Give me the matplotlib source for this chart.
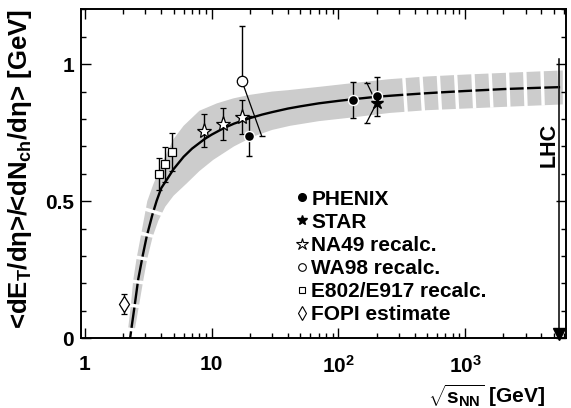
import matplotlib
matplotlib.use('Agg')
import matplotlib.pyplot as plt
from matplotlib.lines import Line2D
from matplotlib.ticker import LogLocator, NullFormatter, MultipleLocator

plt.rcParams['font.family'] = 'Liberation Sans'
plt.rcParams['font.weight'] = 'bold'
plt.rcParams['mathtext.fontset'] = 'custom'
plt.rcParams['mathtext.rm'] = 'Liberation Sans:bold'
plt.rcParams['mathtext.it'] = 'Liberation Sans:bold'
plt.rcParams['mathtext.bf'] = 'Liberation Sans:bold'
plt.rcParams['lines.scale_dashes'] = False

# === fit curve ===
fit_x = [2.27, 2.34, 2.45, 2.63, 2.85, 3.07, 3.4, 3.68, 4.0, 4.5, 5.0, 6.0, 7.0, 8.8,
         10, 12.5, 15, 17.3, 20, 25, 30, 40, 50, 70, 100, 130, 200, 300, 500, 700,
         1000, 1500, 2000, 3000, 4000, 5500]
fit_y = [0.0, 0.045, 0.11, 0.215, 0.30, 0.372, 0.45, 0.502, 0.548, 0.584, 0.617, 0.662,
         0.692, 0.727, 0.743, 0.767, 0.783, 0.793, 0.803, 0.816, 0.825, 0.838, 0.846,
         0.857, 0.866, 0.872, 0.881, 0.887, 0.894, 0.898, 0.902, 0.906, 0.909, 0.912,
         0.914, 0.916]

# bande grise : bord haut/gauche et bord bas/droit
band_up_x = [2.19, 2.30, 2.40, 2.55, 2.75, 3.1, 3.45, 3.82, 4.26, 4.97, 6.0, 8.0, 11, 14.8,
             20, 30, 40, 70, 131, 250, 500, 1000, 2000, 5900]
band_up_y = [0.035, 0.12, 0.21, 0.29, 0.37, 0.50, 0.56, 0.61, 0.66, 0.725, 0.775, 0.83,
             0.857, 0.875, 0.888, 0.90, 0.905, 0.917, 0.931, 0.945, 0.955, 0.962, 0.968,
             0.977]
band_lo_x = [2.48, 2.67, 2.88, 3.1, 3.42, 3.8, 4.3, 5.0, 6.35, 8.0, 10.3, 15, 21.3, 30,
             41.5, 70, 131, 255, 500, 1000, 2000, 5900]
band_lo_y = [0.035, 0.12, 0.21, 0.29, 0.37, 0.43, 0.48, 0.52, 0.565, 0.61, 0.651, 0.70,
             0.736, 0.76, 0.775, 0.792, 0.806, 0.822, 0.832, 0.838, 0.844, 0.853]

# === data points ===
phenix_x = [19.6, 130, 200]
phenix_y = [0.738, 0.870, 0.882]
phenix_err = [0.072, 0.066, 0.072]

star_x = [200]
star_y = [0.858]
star_hi = [0.933]
star_lo = [0.787]
star_cap_x = [167]

na49_x = [8.77, 12.3, 17.3]
na49_y = [0.757, 0.782, 0.807]
na49_err = [0.06, 0.058, 0.062]

wa98_x = [17.3]
wa98_y = [0.939]
wa98_hi = [1.14]
wa98_lo = [0.738]
wa98_cap_x = [24.8]

e802_x = [3.82, 4.26, 4.83]
e802_y = [0.598, 0.634, 0.680]
e802_err = [0.058, 0.063, 0.068]

fopi_x = [2.03]
fopi_y = [0.125]
fopi_err = [0.038]

lhc_x = 5500
lhc_top = 1.02

labels = ['PHENIX', 'STAR', 'NA49 recalc.', 'WA98 recalc.', 'E802/E917 recalc.', 'FOPI estimate']

fig = plt.figure(figsize=(5.71, 4.08), dpi=100)
ax = fig.add_axes([81/571, 1-338.3/408, 485/571, 329/408])
ax.set_xscale('log')
ax.set_xlim(0.93, 6255)
ax.set_ylim(0, 1.2)

# bande + courbe
poly_x = band_up_x + band_lo_x[::-1]
poly_y = band_up_y + band_lo_y[::-1]
ax.fill(poly_x, poly_y, color='#cccccc', lw=0, zorder=1)
ax.plot(fit_x, fit_y, color='black', lw=1.7, zorder=2)

# coupures blanches (zones extrapolees)
low = [(x, y) for x, y in zip(fit_x, fit_y) if x <= 3.68][::-1]
ax.plot([p[0] for p in low], [p[1] for p in low], color='white', lw=16,
        linestyle=(10.3, (2.5, 14.8)), dash_capstyle='butt', zorder=3)
high = [(x, y) for x, y in zip(fit_x, fit_y) if x >= 300]
ax.plot([p[0] for p in high], [p[1] for p in high], color='white', lw=26,
        linestyle=(9.2, (2.45, 9.95)), dash_capstyle='butt', zorder=3)

# LHC
ax.plot([lhc_x, lhc_x], [lhc_top, 0.03], color='black', lw=1.1, zorder=4)
ax.plot([lhc_x], [0.016], marker='v', ms=9, color='black', clip_on=False, zorder=4)
ax.annotate('LHC', xy=(lhc_x, 0.705), xytext=(-6.7, 0), textcoords='offset points',
            rotation=90, ha='center', va='center', fontsize=15.5, zorder=4)

eb = dict(color='black', lw=1, capsize=2.2, capthick=1, linestyle='none', zorder=5)

# E802 / FOPI / NA49 / PHENIX
ax.errorbar(e802_x, e802_y, yerr=e802_err, marker='s', ms=5.5, mfc='white', mec='black',
            mew=0.9, **eb)
ax.errorbar(fopi_x, fopi_y, yerr=fopi_err, marker='d', ms=8, mfc='white', mec='black',
            mew=0.9, **eb)
ax.errorbar(na49_x, na49_y, yerr=na49_err, marker='*', ms=11, mfc='white', mec='black',
            mew=0.9, **eb)
ax.errorbar(phenix_x, phenix_y, yerr=phenix_err, marker='o', ms=7.2, mfc='black',
            mec='white', mew=1, **eb)

# WA98 : barre haute verticale, barre basse en biais
ax.errorbar(wa98_x, wa98_y, yerr=[[0] * len(wa98_y), [h - y for h, y in zip(wa98_hi, wa98_y)]],
            marker='none', **eb)
for x, y, lo, cx in zip(wa98_x, wa98_y, wa98_lo, wa98_cap_x):
    ax.plot([x, cx], [y, lo], color='black', lw=0.9, zorder=5)
    ax.plot([cx], [lo], marker='_', ms=4.4, mew=1, color='black', zorder=5)
ax.plot(wa98_x, wa98_y, marker='o', ms=7.5, mfc='white', mec='black', mew=0.9,
        linestyle='none', zorder=6)

# STAR : barres en biais
for x, y, hi, lo, cx in zip(star_x, star_y, star_hi, star_lo, star_cap_x):
    ax.plot([cx, x, cx], [hi, y, lo], color='black', lw=0.9, zorder=5)
    ax.plot([cx, cx], [hi, lo], marker='_', ms=4.4, mew=1, color='black',
            linestyle='none', zorder=5)
ax.plot(star_x, star_y, marker='*', ms=9, color='black', linestyle='none', zorder=6)

# axes
ax.set_xticks([1, 10, 100, 1000])
ax.set_xticklabels(['1', '10', r'$10^{2}$', r'$10^{3}$'])
ax.xaxis.set_minor_locator(LogLocator(base=10, subs=range(2, 10), numticks=20))
ax.xaxis.set_minor_formatter(NullFormatter())
ax.set_yticks([0, 0.5, 1])
ax.set_yticklabels(['0', '0.5', '1'])
ax.yaxis.set_minor_locator(MultipleLocator(0.1))
ax.tick_params(which='both', direction='in', top=True, right=True, width=1)
ax.tick_params(which='major', length=7.2, labelsize=15)
ax.tick_params(which='minor', length=3.6)
ax.tick_params(axis='x', pad=12)
ax.tick_params(axis='y', pad=5)
for s in ax.spines.values():
    s.set_linewidth(1.4)

fig.text(20/571, 1-169/408, r'<dE$_{T}$/dη>/<dN$_{ch}$/dη> [GeV]', rotation=90,
         ha='center', va='center', fontsize=18.5)
ax.text((545-81)/485, (338.3-396)/329, r'$\sqrt{s_{NN}}$ [GeV]', transform=ax.transAxes,
        ha='right', va='center', fontsize=15)

# legende
handles = [
    Line2D([], [], marker='o', color='black', linestyle='none', ms=5.5),
    Line2D([], [], marker='*', color='black', linestyle='none', ms=7),
    Line2D([], [], marker='*', mfc='white', mec='black', mew=0.8, linestyle='none', ms=9),
    Line2D([], [], marker='o', mfc='white', mec='black', mew=0.8, linestyle='none', ms=5.5),
    Line2D([], [], marker='s', mfc='white', mec='black', mew=0.8, linestyle='none', ms=4.5),
    Line2D([], [], marker='d', mfc='white', mec='black', mew=0.8, linestyle='none', ms=7),
]
ax.legend(handles, labels, loc='upper left', bbox_to_anchor=(0.443, 0.452), frameon=False,
          handlelength=0.6, handletextpad=0.15, labelspacing=0.2, borderpad=0,
          borderaxespad=0, prop={'size': 15, 'weight': 'bold'})

plt.savefig('out.png', dpi=100)
